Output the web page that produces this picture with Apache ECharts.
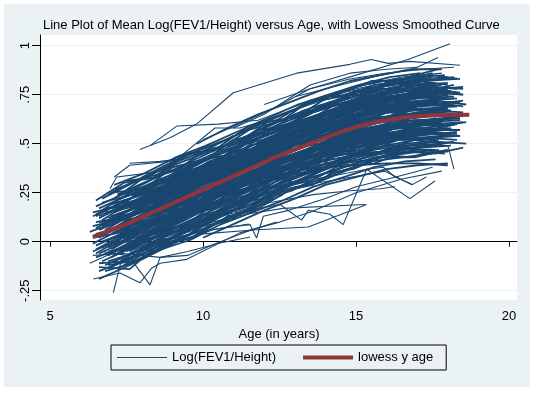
<!DOCTYPE html>
<html><head><meta charset="utf-8">
<script src="https://cdn.jsdelivr.net/npm/echarts@6/dist/echarts.min.js"></script>
<style>
html,body{margin:0;padding:0;background:#fff;}
#bg{position:absolute;left:4px;top:4px;width:526px;height:383px;background:#EAF2F3;}
#chart{position:absolute;left:0;top:0;width:537px;height:393px;}
</style></head><body>
<div id="bg"></div><div id="chart"></div>
<script>
const chartTitle = 'Line Plot of Mean Log(FEV1/Height) versus Age, with Lowess Smoothed Curve';
const xTitle = 'Age (in years)';
const seriesNames = ['Log(FEV1/Height)', 'lowess y age'];
const xTicks = [5, 10, 15, 20];
const yTicks = [-0.25, 0, 0.25, 0.5, 0.75, 1];

const lowessAges   = [6.4, 7, 7.5, 8, 8.5, 9, 9.5, 10, 10.5, 11, 11.5, 12, 12.5, 13, 13.5, 14, 14.5, 15, 15.5, 16, 16.5, 17, 17.5, 18, 18.7];
const lowessValues = [.025, .06, .09, .125, .16, .195, .23, .265, .30, .335, .37, .405, .44, .47, .50, .53, .56, .585, .605, .62, .632, .64, .645, .647, .648];

// each subject: "age value age value ..."
const subjectsEarlyStart = [
"6.6 .03 7.6 .11 8.6 .17 9.6 .24 10.6 .31 11.6 .38 12.6 .45 13.6 .50 14.6 .57 15.6 .61 16.6 .63 17.6 .65",
"7.0 .12 8.1 .16 9.0 .25 10.1 .33 11.0 .38 12.0 .46 13.1 .53 14.0 .59 15.1 .63 16.0 .67 17.0 .70 18.0 .69",
"6.8 .00 7.8 .07 8.8 .14 9.9 .21 10.8 .28 11.9 .35 12.8 .42 13.9 .48 14.9 .53 15.8 .57 16.9 .59 17.9 .60",
"7.2 .17 8.2 .24 9.2 .30 10.2 .38 11.3 .45 12.2 .50 13.2 .59 14.2 .64 15.2 .69 16.2 .72 17.2 .75 18.2 .74",
"6.5 -.08 7.5 -.02 8.5 .06 9.5 .13 10.5 .20 11.5 .27 12.5 .33 13.5 .41 14.5 .46 15.5 .50 16.5 .54 17.5 .55",
"6.9 .08 8.0 .17 9.1 .21 10.0 .30 11.1 .37 12.1 .45 13.0 .50 14.1 .57 15.0 .62 16.1 .64 17.1 .68 18.1 .67",
"7.4 .05 8.4 .12 9.4 .21 10.4 .26 11.4 .33 12.4 .41 13.4 .47 14.4 .52 15.4 .57 16.4 .60 17.4 .61 18.4 .62",
"6.7 .09 7.7 .17 8.7 .24 9.7 .30 10.7 .38 11.7 .45 12.7 .52 13.7 .58 14.7 .63 15.7 .68 16.7 .71 17.7 .71",
"7.1 -.02 8.0 .06 9.0 .13 10.0 .19 11.1 .27 12.0 .33 13.0 .40 14.0 .46 15.0 .51 16.0 .55 17.0 .57 18.0 .58",
"6.4 .13 7.4 .20 8.4 .28 9.4 .35 10.4 .41 11.4 .50 12.4 .56 13.4 .62 14.4 .67 15.4 .72 16.4 .75 17.4 .77",
"7.3 -.05 8.3 .02 9.3 .09 10.3 .16 11.3 .23 12.3 .30 13.3 .37 14.3 .41 15.3 .47 16.3 .50 17.3 .53 18.3 .52",
"6.6 .06 7.5 .12 8.5 .18 9.6 .26 10.5 .32 11.6 .39 12.6 .47 13.5 .52 14.6 .58 15.5 .63 16.6 .65 17.5 .67 18.5 .66",
"7.0 .04 8.0 .10 9.0 .18 10.0 .24 11.0 .32 12.0 .39 13.0 .45 14.0 .51 15.0 .57 16.0 .60 17.0 .62",
"7.6 .25 8.6 .32 9.6 .38 10.6 .46 11.6 .52 12.6 .58 13.6 .66 14.6 .71 15.6 .75 16.6 .78 17.6 .80",
"6.8 -.12 7.8 -.05 8.8 .01 9.8 .09 10.8 .14 11.8 .23 12.8 .29 13.8 .36 14.8 .42 15.8 .46 16.8 .48 17.8 .50",
"7.1 .15 8.1 .21 9.2 .28 10.2 .36 11.1 .41 12.2 .49 13.1 .56 14.2 .62 15.1 .66 16.2 .70 17.1 .72 18.2 .73",
"6.9 -.03 7.9 .04 8.9 .12 9.9 .18 10.9 .26 11.9 .32 12.9 .39 13.9 .45 14.9 .50 15.9 .54 16.9 .56 17.9 .57",
"7.5 .13 8.5 .23 9.5 .27 10.5 .36 11.5 .41 12.5 .50 13.5 .55 14.5 .60 15.5 .66 16.5 .67 17.5 .71 18.5 .69",
"6.5 -.02 7.6 .06 8.6 .11 9.6 .20 10.6 .26 11.6 .34 12.6 .40 13.6 .46 14.6 .53 15.6 .56 16.6 .60 17.6 .60",
"7.2 .24 8.2 .31 9.2 .38 10.3 .46 11.2 .52 12.2 .60 13.2 .65 14.2 .71 15.2 .77 16.2 .80 17.2 .82 18.2 .83",
"7.0 -.13 8.0 -.05 9.0 .02 10.0 .08 11.0 .16 12.0 .22 13.0 .30 14.0 .35 15.0 .40 16.0 .44 17.0 .47 18.0 .46",
"7.8 .12 8.8 .19 9.8 .25 10.8 .32 11.8 .40 12.8 .45 13.8 .53 14.8 .57 15.8 .62 16.8 .64 17.8 .65",
"6.6 .13 7.6 .20 8.7 .26 9.7 .35 10.7 .41 11.7 .48 12.7 .55 13.7 .61 14.7 .65 15.7 .71 16.7 .73 17.7 .75",
"7.4 -.03 8.4 .05 9.4 .11 10.4 .19 11.4 .26 12.4 .33 13.4 .38 14.4 .45 15.4 .50 16.4 .53 17.4 .55 18.4 .54",
"6.3 .05 7.3 .11 8.3 .18 9.3 .26 10.3 .31 11.3 .40 12.3 .46 13.3 .53 14.3 .59 15.3 .63 16.3 .67 17.3 .68 18.3 .69",
"7.2 .01 8.2 .08 9.2 .14 10.2 .22 11.2 .28 12.2 .36 13.2 .42 14.2 .48 15.2 .53 16.2 .56 17.2 .58",
"7.7 .23 8.7 .31 9.7 .37 10.7 .44 11.7 .52 12.7 .58 13.7 .64 14.7 .70 15.7 .74 16.7 .77 17.7 .78 18.5 .79",
"6.7 -.10 7.7 -.03 8.7 .04 9.7 .11 10.7 .17 11.7 .25 12.7 .31 13.7 .38 14.7 .43 15.7 .48 16.7 .50 17.7 .52",
"7.0 .13 8.1 .19 9.1 .26 10.0 .33 11.0 .40 12.1 .47 13.1 .53 14.1 .59 15.0 .65 16.1 .68 17.1 .69 18.1 .71",
"6.8 .04 7.9 .11 8.9 .18 9.8 .26 10.9 .32 11.8 .40 12.9 .46 13.9 .52 14.8 .58 15.9 .61 16.9 .63 17.9 .65",
"6.9 .24 7.9 .32 8.9 .40 9.9 .47 10.9 .53 11.9 .61 12.9 .67 13.9 .73 14.9 .79 15.9 .82 16.9 .84 17.9 .85",
"7.5 -.12 8.5 -.04 9.5 .03 10.5 .10 11.5 .17 12.5 .25 13.5 .30 14.5 .36 15.5 .41 16.5 .43 17.5 .45",
"7.3 .17 8.3 .24 9.3 .31 10.3 .37 11.3 .44 12.3 .52 13.3 .57 14.3 .64 15.3 .68 16.3 .72 17.3 .74 18.3 .73",
"6.6 -.06 7.6 .01 8.6 .07 9.6 .15 10.6 .22 11.6 .28 12.6 .36 13.6 .41 14.6 .48 15.6 .52 16.6 .54 17.6 .56",
"7.6 .10 8.6 .17 9.6 .25 10.6 .31 11.6 .39 12.6 .45 13.6 .51 14.6 .58 15.6 .61 16.6 .64 17.6 .66 18.6 .65",
"6.5 .18 7.5 .25 8.5 .33 9.5 .39 10.5 .46 11.5 .53 12.5 .60 13.5 .66 14.5 .72 15.5 .77 16.5 .79 17.5 .81",
"7.1 -.10 8.1 -.03 9.1 .03 10.1 .11 11.1 .17 12.1 .25 13.1 .30 14.1 .38 15.1 .42 16.1 .46 17.1 .48 18.1 .49",
"7.0 .10 8.0 .15 9.0 .23 10.0 .30 11.0 .36 12.0 .44 13.0 .50 14.0 .56 15.0 .61 16.0 .66 17.0 .67 18.0 .68",
"6.4 -.01 7.4 .07 8.4 .13 9.4 .19 10.4 .27 11.4 .34 12.4 .40 13.4 .47 14.4 .52 15.4 .58 16.4 .59 17.4 .62",
"7.9 .24 8.9 .30 9.9 .37 10.9 .45 11.9 .51 12.9 .59 13.9 .64 14.9 .69 15.9 .74 16.9 .75 17.9 .76",
"6.9 -.06 7.9 .02 8.9 .08 9.9 .16 10.9 .22 11.9 .30 12.9 .35 13.9 .43 14.9 .47 15.9 .51 16.9 .53 17.9 .54",
"7.4 .15 8.4 .21 9.4 .30 10.4 .35 11.4 .43 12.4 .48 13.4 .57 14.4 .62 15.4 .67 16.4 .69 17.4 .72 18.4 .71",
"6.7 -.03 7.7 .05 8.7 .10 9.7 .18 10.7 .24 11.7 .32 12.7 .38 13.7 .44 14.7 .50 15.7 .54 16.7 .56 17.7 .58",
"7.1 .29 8.1 .35 9.1 .43 10.1 .49 11.1 .56 12.1 .63 13.1 .70 14.1 .75 15.1 .80 16.1 .84 17.1 .86",
"6.6 -.19 7.6 -.12 8.6 -.04 9.6 .01 10.6 .09 11.6 .15 12.6 .21 13.6 .28 14.6 .33 15.6 .38 16.6 .41 17.6 .42",
"6.9 .05 7.9 .13 8.8 .18 9.9 .27 10.8 .33 11.9 .41 12.8 .46 13.9 .54 14.8 .58 15.9 .62 16.8 .64 17.8 .64",
"7.3 .22 8.3 .28 9.4 .36 10.3 .43 11.4 .50 12.3 .56 13.4 .63 14.3 .68 15.4 .74 16.3 .76 17.4 .79 18.3 .78",
"7.6 -.04 8.6 .03 9.6 .08 10.6 .17 11.6 .22 12.6 .31 13.6 .36 14.6 .42 15.6 .47 16.6 .49 17.6 .51 18.6 .50",
"6.5 .07 7.5 .15 8.5 .22 9.5 .27 10.5 .35 11.5 .42 12.5 .48 13.5 .55 14.5 .61 15.5 .65 16.5 .69 17.5 .70",
"7.2 .03 8.2 .08 9.2 .16 10.2 .23 11.2 .29 12.2 .37 13.2 .41 14.2 .49 15.2 .54 16.2 .58 17.2 .58 18.2 .60",
"7.0 -.04 8.0 .05 9.0 .13 10.0 .22 11.0 .31 12.0 .41 13.0 .49 14.0 .57 15.0 .65 16.0 .70 17.0 .73 18.0 .75",
"6.8 .14 7.8 .20 8.8 .26 9.8 .32 10.8 .37 11.8 .42 12.8 .47 13.8 .50 14.8 .53 15.8 .55 16.8 .56 17.8 .55",
"7.4 -.04 8.4 .04 9.4 .12 10.4 .22 11.4 .32 12.4 .42 13.4 .51 14.4 .60 15.4 .68 16.4 .74 17.4 .78",
"6.6 .17 7.6 .24 8.6 .31 9.6 .36 10.6 .42 11.6 .47 12.6 .52 13.6 .56 14.6 .60 15.6 .61 16.6 .62 17.6 .61",
"7.2 .08 8.2 .15 9.2 .24 10.2 .32 11.2 .41 12.2 .50 13.2 .58 14.2 .66 15.2 .73 16.2 .78 17.2 .82 18.2 .84",
"6.9 .06 7.9 .12 8.9 .18 9.9 .23 10.9 .28 11.9 .33 12.9 .37 13.9 .41 14.9 .44 15.9 .45 16.9 .46 17.9 .45",
"7.7 .04 8.7 .13 9.7 .23 10.7 .33 11.7 .43 12.7 .53 13.7 .62 14.7 .71 15.7 .78 16.7 .84 17.7 .88",
"7.0 .11 8.0 .16 9.0 .21 10.0 .25 11.0 .29 12.0 .33 13.0 .36 14.0 .38 15.0 .39 16.0 .40 17.0 .40 18.0 .39",
"6.7 .22 7.7 .30 8.7 .37 9.7 .43 10.7 .49 11.7 .55 12.7 .60 13.7 .64 14.7 .67 15.7 .69 16.7 .70 17.7 .71",
"7.3 -.13 8.3 -.04 9.3 .04 10.3 .13 11.3 .21 12.3 .30 13.3 .38 14.3 .46 15.3 .53 16.3 .59 17.3 .62 18.3 .64"
];

const subjectsEarlyNoisy = [
"6.5 .21 7.4 .30 8.5 .33 9.4 .44 10.6 .48 11.5 .57 12.6 .62 13.4 .71 14.5 .74 15.6 .80 16.4 .81 17.5 .85 18.4 .83",
"6.8 -.15 7.7 -.11 8.8 -.01 9.7 .02 10.8 .13 11.7 .16 12.8 .26 13.7 .30 14.8 .37 15.7 .43 16.8 .43 17.7 .47",
"7.0 .25 8.1 .27 9.0 .38 10.1 .42 11.0 .52 12.1 .56 13.0 .65 14.1 .69 15.0 .76 16.1 .78 17.0 .82 18.0 .80",
"6.6 -.11 7.5 -.10 8.6 .01 9.5 .03 10.6 .14 11.5 .18 12.6 .28 13.5 .31 14.6 .40 15.5 .42 16.6 .47 17.5 .47",
"7.3 .18 8.2 .29 9.3 .32 10.2 .41 11.3 .47 12.2 .57 13.3 .60 14.2 .69 15.3 .72 16.2 .77 17.3 .77 18.2 .80",
"6.9 -.05 7.8 -.03 8.9 .07 9.8 .08 10.9 .20 11.8 .23 12.9 .34 13.8 .37 14.9 .45 15.8 .46 16.9 .52 17.8 .50",
"6.4 .15 7.5 .19 8.4 .26 9.5 .35 10.4 .38 11.5 .49 12.4 .52 13.5 .62 14.4 .66 15.5 .73 16.4 .73 17.5 .77 18.5 .75",
"7.2 -.06 8.1 .03 9.2 .06 10.1 .16 11.2 .21 12.1 .31 13.2 .34 14.1 .43 15.2 .46 16.1 .52 17.2 .52 18.1 .55",
"6.7 .11 7.6 .20 8.7 .25 9.6 .30 10.7 .41 11.6 .45 12.7 .55 13.6 .58 14.7 .67 15.6 .69 16.7 .74 17.6 .73",
"7.0 -.01 8.0 .01 9.1 .12 10.0 .16 11.1 .26 12.0 .30 13.1 .40 14.0 .42 15.1 .51 16.0 .51 17.1 .57 18.0 .55",
"6.5 .10 7.5 .13 8.6 .23 9.5 .28 10.6 .35 11.5 .44 12.6 .49 13.5 .57 14.6 .61 15.5 .68 16.6 .68 17.5 .72 18.6 .70",
"7.4 .01 8.3 .09 9.4 .13 10.3 .22 11.4 .27 12.3 .37 13.4 .40 14.3 .49 15.4 .52 16.3 .58 17.4 .57 18.3 .60",
"6.8 .06 7.7 .14 8.8 .19 9.7 .27 10.8 .34 11.7 .39 12.8 .49 13.7 .52 14.8 .61 15.7 .62 16.8 .68 17.7 .67",
"7.1 .05 8.1 .08 9.0 .18 10.1 .22 11.0 .32 12.1 .38 13.0 .45 14.1 .51 15.0 .56 16.1 .60 17.0 .60 18.1 .63",
"6.6 .02 7.6 .11 8.5 .15 9.6 .25 10.5 .29 11.6 .39 12.5 .43 13.6 .53 14.5 .55 15.6 .63 16.5 .62 17.6 .66 18.5 .64",
"7.5 .31 8.4 .33 9.5 .45 10.4 .47 11.5 .59 12.4 .62 13.5 .72 14.4 .75 15.5 .82 16.4 .82 17.5 .86",
"6.9 -.12 8.0 -.09 8.9 -.02 10.0 .08 10.9 .11 12.0 .22 12.9 .26 14.0 .35 14.9 .37 16.0 .44 16.9 .43 18.0 .47",
"6.7 .16 7.8 .27 8.7 .30 9.8 .41 10.7 .44 11.8 .57 12.7 .59 13.8 .69 14.7 .71 15.8 .78 16.7 .78 17.8 .80",
"7.2 -.11 8.2 -.01 9.1 .02 10.2 .13 11.1 .17 12.2 .27 13.1 .31 14.2 .40 15.1 .42 16.2 .48 17.1 .48 18.2 .51",
"6.5 .13 7.4 .21 8.5 .26 9.4 .36 10.5 .40 11.4 .50 12.5 .54 13.4 .63 14.5 .66 15.4 .74 16.5 .73 17.4 .78 18.4 .76",
"7.6 -.05 8.5 .06 9.6 .08 10.5 .19 11.6 .24 12.5 .34 13.6 .36 14.5 .46 15.6 .47 16.5 .53 17.6 .52",
"6.9 .12 7.9 .18 8.9 .29 9.9 .32 10.9 .43 11.9 .47 12.9 .57 13.9 .59 14.9 .68 15.9 .69 16.9 .74 17.9 .73",
"6.5 -.06 7.5 .03 8.4 .06 9.5 .17 10.4 .20 11.5 .31 12.4 .34 13.5 .44 14.4 .46 15.5 .54 16.4 .54 17.5 .58",
"7.3 .13 8.3 .16 9.3 .27 10.3 .31 11.3 .41 12.3 .45 13.3 .55 14.3 .58 15.3 .66 16.3 .67 17.3 .71 18.3 .69",
"6.7 .00 7.7 .06 8.6 .13 9.7 .19 10.6 .28 11.7 .32 12.6 .42 13.7 .45 14.6 .53 15.7 .55 16.6 .60 17.7 .59 18.6 .61",
"7.0 .06 8.0 .16 9.0 .20 10.0 .30 11.0 .33 12.0 .44 13.0 .47 14.0 .57 15.0 .59 16.0 .66 17.0 .65 18.0 .68",
"6.4 .02 7.4 .05 8.3 .15 9.4 .19 10.3 .29 11.4 .33 12.3 .42 13.4 .46 14.3 .54 15.4 .57 16.3 .62 17.4 .61 18.3 .64",
"7.1 .22 8.1 .33 9.1 .36 10.1 .47 11.1 .50 12.1 .61 13.1 .64 14.1 .74 15.1 .75 16.1 .82 17.1 .81",
"6.6 -.13 7.6 -.14 8.6 -.01 9.6 .02 10.6 .11 11.6 .16 12.6 .26 13.6 .29 14.6 .39 15.6 .40 16.6 .46 17.6 .45 18.5 .48",
"6.8 .17 7.8 .19 8.8 .30 9.8 .33 10.8 .45 11.8 .48 12.8 .58 13.8 .61 14.8 .70 15.8 .70 16.8 .76 17.8 .74",
"7.5 .20 9.0 .26 10.5 .36 12.0 .44 13.5 .58 15.0 .70 16.5 .74 18.0 .78",
"6.6 .10 8.0 .12 9.5 .18 11.0 .26 12.5 .36 14.0 .46 15.5 .50 17.0 .54 18.3 .56",
"7.0 -.08 8.5 .06 10.0 .18 11.5 .32 13.0 .44 14.5 .55 16.0 .62 17.5 .66",
"6.7 .20 8.2 .26 9.7 .32 11.2 .42 12.7 .50 14.2 .58 15.7 .62 17.2 .66 18.4 .64",
"7.8 .02 9.3 .14 10.8 .22 12.3 .35 13.8 .43 15.3 .52 16.8 .58 18.2 .57",
"7.2 .14 8.7 .22 10.2 .34 11.7 .40 13.2 .55 14.7 .62 16.2 .68 17.7 .72",
"6.5 -.04 7.9 .08 9.4 .16 10.9 .27 12.4 .39 13.9 .48 15.4 .57 16.9 .62 18.4 .63",
"7.4 .09 8.9 .21 10.4 .24 11.9 .38 13.4 .46 14.9 .56 16.4 .58 17.9 .62",
"6.9 .17 8.4 .20 9.9 .30 11.4 .39 12.9 .51 14.4 .60 15.9 .69 17.4 .70",
"7.6 -.02 9.1 .11 10.6 .20 12.1 .30 13.6 .42 15.1 .50 16.6 .55 18.1 .58"
];

const subjectsLateStart = [
"9.2 .26 10.2 .32 11.2 .40 12.2 .47 13.2 .53 14.2 .59 15.2 .64 16.2 .67 17.2 .70 18.2 .70",
"9.5 .18 10.5 .25 11.5 .32 12.5 .39 13.5 .45 14.5 .51 15.5 .56 16.5 .58 17.5 .60 18.5 .61",
"10.1 .38 11.1 .45 12.1 .53 13.1 .59 14.1 .65 15.1 .70 16.1 .74 17.1 .76 18.1 .77",
"10.4 .18 11.4 .25 12.4 .32 13.4 .38 14.4 .44 15.4 .48 16.4 .52 17.4 .53 18.4 .54",
"11.0 .33 12.0 .41 13.0 .47 14.0 .53 15.0 .59 16.0 .62 17.0 .64 18.0 .65",
"11.3 .53 12.3 .60 13.3 .67 14.3 .72 15.3 .78 16.3 .81 17.3 .83 18.3 .83",
"11.6 .19 12.6 .27 13.6 .33 14.6 .38 15.6 .43 16.6 .45 17.6 .47",
"12.1 .49 13.1 .55 14.1 .62 15.1 .66 16.1 .70 17.1 .72 18.1 .73",
"12.4 .35 13.4 .42 14.4 .48 15.4 .52 16.4 .55 17.4 .57 18.4 .57",
"9.0 .21 10.0 .29 11.0 .35 12.0 .43 13.0 .49 14.0 .55 15.0 .61 16.0 .63 17.0 .66 18.0 .67",
"8.4 .14 9.4 .20 10.4 .28 11.4 .34 12.4 .42 13.4 .47 14.4 .54 15.4 .58 16.4 .61 17.4 .62 18.4 .63",
"8.6 .30 9.6 .39 10.6 .45 11.6 .53 12.6 .59 13.6 .66 14.6 .71 15.6 .76 16.6 .78 17.6 .80",
"8.8 .03 9.8 .10 10.8 .17 11.8 .24 12.8 .31 13.8 .37 14.8 .43 15.8 .46 16.8 .49 17.8 .50",
"13.0 .57 14.0 .63 15.0 .69 16.0 .72 17.0 .74 18.0 .75",
"13.3 .38 14.3 .44 15.3 .50 16.3 .53 17.3 .55 18.3 .54",
"14.0 .58 15.0 .64 16.0 .67 17.0 .69 18.0 .70",
"9.8 .50 10.8 .58 11.8 .65 12.8 .71 13.8 .77 14.8 .82 15.8 .85 16.8 .88 17.8 .88",
"10.0 .02 11.0 .09 12.0 .16 13.0 .22 14.0 .29 15.0 .33 16.0 .37 17.0 .39 18.0 .40",
"10.7 .37 11.7 .45 12.7 .51 13.7 .57 14.7 .63 15.7 .67 16.7 .70 17.7 .71",
"11.8 .36 12.8 .42 13.8 .48 14.8 .54 15.8 .57 16.8 .60 17.8 .61",
"9.5 .33 10.5 .37 11.5 .46 12.5 .52 13.5 .61 14.5 .65 15.5 .72 16.5 .73 17.5 .76 18.5 .75",
"10.2 .20 11.2 .30 12.2 .33 13.2 .43 14.2 .46 15.2 .53 16.2 .54 17.2 .58 18.2 .57",
"12.0 .52 13.0 .56 14.0 .65 15.0 .68 16.0 .74 17.0 .74 18.0 .77",
"12.6 .40 13.6 .47 14.6 .50 15.6 .58 16.6 .59 17.6 .63",
"14.5 .66 15.5 .72 16.5 .75 17.5 .79 18.5 .78",
"13.8 .45 14.8 .50 15.8 .55 16.8 .55 17.8 .58",
"11.5 .44 12.5 .52 13.5 .56 14.5 .64 15.5 .66 16.5 .71 17.5 .70 18.5 .72",
"10.8 .27 11.8 .36 12.8 .39 13.8 .49 14.8 .51 15.8 .58 16.8 .58 17.8 .62",
"15.0 .72 16.0 .76 17.0 .80 18.0 .81",
"15.3 .48 16.3 .52 17.3 .56 18.3 .55",
"9.1 .30 10.1 .38 11.1 .43 12.1 .52 13.1 .57 14.1 .65 15.1 .67 16.1 .72 17.1 .71",
"8.2 .05 9.2 .14 10.2 .18 11.2 .28 12.2 .32 13.2 .42 14.2 .45 15.2 .52 16.2 .53 17.2 .58 18.2 .57"
];

const subjectsShort = [
"6.7 .08 7.7 .15 8.7 .22 9.7 .30 10.7 .35 11.7 .43",
"7.2 .02 8.2 .08 9.2 .15 10.2 .22 11.2 .29 12.2 .35 13.2 .43",
"6.5 .14 7.5 .21 8.5 .29 9.5 .35",
"6.9 -.07 7.9 .01 8.9 .07 9.9 .15 10.9 .21",
"7.5 .09 8.5 .16 9.5 .23 10.5 .30 11.5 .37 12.5 .44 13.5 .50 14.5 .56",
"7.0 .26 8.0 .32 9.0 .40 10.0 .46 11.0 .54",
"6.6 -.15 7.6 -.09 8.6 -.02 9.6 .04 10.6 .10 11.6 .17 12.6 .24",
"7.8 .20 8.8 .27 9.8 .34 10.8 .41 11.8 .48 12.8 .55 13.8 .61 14.8 .66 15.8 .70",
"6.4 -.05 7.4 .02 8.4 .09 9.4 .14 10.4 .22",
"7.1 .10 8.1 .16 9.1 .22 10.1 .30 11.1 .36 12.1 .44 13.1 .50",
"7.3 .24 8.3 .29 9.3 .37 10.3 .43",
"7.7 -.06 8.7 .03 9.7 .09 10.7 .16 11.7 .22 12.7 .29 13.7 .35 14.7 .41",
"6.5 .04 7.5 .08 8.5 .18 9.5 .21 10.5 .31",
"6.8 .15 7.8 .18 8.8 .27 9.8 .31 10.8 .40 11.8 .44",
"7.1 -.07 8.1 .01 9.1 .05 10.1 .14 11.1 .18 12.1 .28",
"6.6 .12 7.6 .20 8.6 .24 9.6 .33 10.6 .37 11.6 .46 12.6 .50 13.6 .59",
"7.3 .05 8.3 .14 9.3 .17 10.3 .27 11.3 .31 12.3 .40 13.3 .44 14.3 .53 15.3 .55",
"6.4 .08 7.4 .12 8.4 .22 9.4 .25 10.4 .34",
"7.0 .19 8.0 .24 9.0 .30 10.0 .37 11.0 .44 12.0 .50",
"6.9 -.10 7.9 -.05 8.9 .04 9.9 .08 10.9 .18 11.9 .22 12.9 .31"
];

const subjectsUpper = [
"7.94 .47 8.92 .53 9.79 .60 10.99 .76 13.06 .86 14.8 .905 15.5 .93 16.05 .91 16.76 .92 18.4 .90",
"12.0 .70 13.5 .78 15.0 .85 16.7 .93 18.07 1.01",
"13.0 .74 14.5 .80 15.8 .85 16.86 .88 17.68 .94",
"8.27 .49 9.14 .59 10.5 .60 11.8 .62 13.0 .69 14.5 .76 16.0 .80 17.5 .84",
"7.1 .33 7.6 .39 8.9 .41 10.0 .45 11.3 .52 12.5 .60 13.8 .68 15.0 .74 16.2 .79 17.4 .80",
"7.6 .40 8.6 .41 9.14 .42 10.39 .58 11.2 .58 12.3 .63 13.5 .70 15.0 .77 16.3 .80 17.6 .81",
"10.0 .52 11.2 .60 12.3 .68 13.5 .78 14.8 .83 16.0 .86 17.2 .88 18.2 .89",
"11.0 .58 12.0 .65 13.5 .80 14.8 .86 16.0 .88 17.0 .89",
"9.0 .42 10.3 .49 11.5 .57 12.8 .66 14.0 .74 15.3 .80 16.5 .84 17.8 .86",
"8.5 .37 9.6 .45 10.8 .52 12.0 .61 13.2 .69 14.4 .76 15.6 .80 16.8 .83 18.0 .84",
"6.96 .27 7.18 .33 8.2 .35 9.3 .39 10.4 .44"
];

const subjectsLower = [
"6.42 -.19 7.29 -.16 7.94 -.21 8.32 -.135 8.6 -.11 9.47 -.09 11.2 .045 12.5 .10 13.5 .15 15.0 .25 16.5 .32 17.8 .36",
"7.07 -.26 7.34 -.09 8.2 -.06 9.2 .0 10.3 .06 11.5 .09",
"6.9 -.14 7.6 -.08 8.27 -.22 8.6 -.08 9.5 -.05 10.56 -.007 11.54 .024",
"7.5 -.05 8.5 .0 9.6 .04 10.6 .07 11.54 .087 11.75 .019 11.97 .13 12.8 .16 14.0 .22 15.0 .28 16.3 .33 17.5 .38",
"8.0 -.05 9.0 .0 10.0 .04 11.64 .06 13.44 .075 15.35 .19",
"7.2 .0 8.3 .04 9.5 .09 10.8 .14 12.52 .19 13.22 .11 13.44 .16 14.15 .14 14.58 .087 15.02 .25 15.35 .37 15.89 .38 16.27 .33 16.87 .29",
"9.0 .05 10.3 .10 11.4 .14 12.61 .17 15.29 .19",
"11.0 .22 12.2 .27 13.3 .31 14.4 .34 15.35 .37 16.76 .22 17.58 .31",
"10.5 .18 11.8 .24 13.0 .28 14.5 .32 15.95 .36 16.82 .29 17.3 .33",
"11.0 .15 12.2 .20 13.6 .24 14.8 .26 15.78 .27 16.27 .28",
"13.0 .38 14.2 .42 15.3 .45 16.5 .47 17.3 .49 18.0 .49 18.2 .37",
"6.4 -.07 7.4 -.06 8.6 -.08 9.5 -.07 10.4 -.01 11.4 .05 12.4 .10",
"6.7 -.05 7.5 -.07 8.0 -.02 9.0 .02 10.0 .08",
"6.3 -.11 7.3 -.04 8.3 .0 9.3 .05 10.3 .10"
];

function parseSubject(s) {
  const t = s.trim().split(/\s+/).map(Number);
  const out = [];
  for (let i = 0; i < t.length; i += 2) out.push([t[i], t[i + 1]]);
  return out;
}

const navy = '#1A476F';
const maroon = '#90353B';
const font = "'Liberation Sans', Arial, Helvetica, sans-serif";

function subjectSeries(list, width) {
  return list.map(s => ({
    type: 'line', name: seriesNames[0], data: parseSubject(s),
    symbol: 'none', showSymbol: false, silent: true, z: 2,
    lineStyle: { width: width, color: navy }, itemStyle: { color: navy }
  }));
}

const series = [].concat(
  subjectSeries(subjectsEarlyStart, 1.8),
  subjectSeries(subjectsEarlyNoisy, 1.8),
  subjectSeries(subjectsLateStart, 1.8),
  subjectSeries(subjectsShort, 1.8),
  subjectSeries(subjectsUpper, 1.1),
  subjectSeries(subjectsLower, 1.1)
);
series.push({
  type: 'line', name: seriesNames[1],
  data: lowessAges.map((a, i) => [a, lowessValues[i]]),
  symbol: 'none', showSymbol: false, smooth: true, silent: true, z: 5,
  lineStyle: { width: 4, color: maroon }, itemStyle: { color: maroon }
});

function yFmt(v) {
  if (v === 0) return '0';
  if (v === 1) return '1';
  return String(v).replace('0.', '.');
}

const chart = echarts.init(document.getElementById('chart'), null, { renderer: 'canvas' });
chart.setOption({
  animation: false,
  backgroundColor: 'transparent',
  textStyle: { fontFamily: font },
  title: {
    text: chartTitle, left: 43, top: 19, padding: 0,
    textStyle: { fontSize: 13, fontWeight: 'normal', color: '#000', fontFamily: font }
  },
  grid: { left: 41, top: 35, width: 476, height: 265, show: true, backgroundColor: '#fff', borderWidth: 0, containLabel: false },
  legend: {
    data: [
      { name: seriesNames[0], icon: 'path://M0,0L50,0L50,1L0,1Z', itemStyle: { color: navy, borderWidth: 0 } },
      { name: seriesNames[1], icon: 'path://M0,0L50,0L50,4L0,4Z', itemStyle: { color: maroon, borderWidth: 0 } }
    ],
    left: 111, top: 345, padding: [6, 13, 6, 6],
    itemWidth: 50, itemHeight: 14, itemGap: 27,
    itemStyle: { borderWidth: 0 },
    borderColor: '#000', borderWidth: 1, backgroundColor: 'transparent',
    textStyle: { fontSize: 13, color: '#000', fontFamily: font },
    selectedMode: false
  },
  xAxis: {
    type: 'value', min: 4.706, max: 20.26, offset: 1,
    name: xTitle, nameLocation: 'middle', nameGap: 23,
    nameTextStyle: { fontSize: 13, color: '#000', fontFamily: font },
    axisLine: { show: true, lineStyle: { color: '#000', width: 1 } },
    axisTick: { show: true, length: 5, customValues: xTicks, lineStyle: { color: '#000' } },
    axisLabel: { customValues: xTicks, margin: 9, fontSize: 13, color: '#000', fontFamily: font },
    splitLine: { show: false }
  },
  yAxis: {
    type: 'value', min: -0.2975, max: 1.0547, offset: 1,
    axisLine: { show: true, lineStyle: { color: '#000', width: 1 } },
    axisTick: { show: true, length: 8, customValues: yTicks, lineStyle: { color: '#000' } },
    axisLabel: { customValues: yTicks, rotate: 90, margin: 15, align: 'center', verticalAlign: 'middle',
                 fontSize: 13, color: '#000', fontFamily: font, formatter: yFmt },
    splitLine: { show: true, lineStyle: { color: '#EAF2F3', width: 1 } }
  },
  series: series
});
</script>
</body></html>
